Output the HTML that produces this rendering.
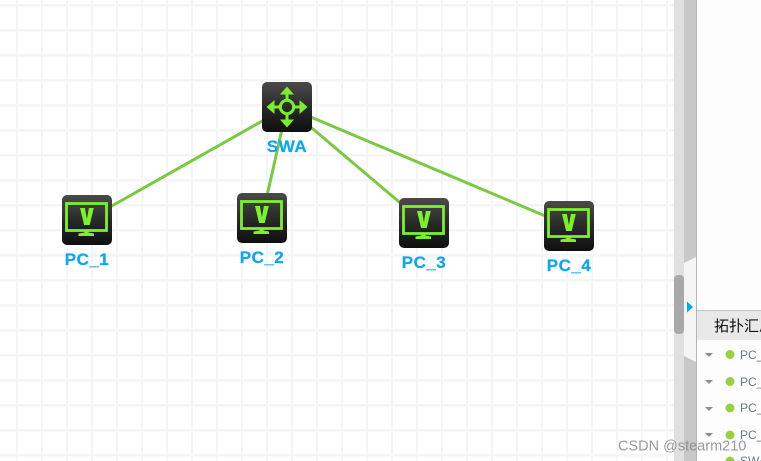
<!DOCTYPE html>
<html>
<head>
<meta charset="utf-8">
<style>
html,body{margin:0;padding:0;background:#fff;}
body{width:761px;height:461px;overflow:hidden;}
svg{display:block;}
text{font-family:"Liberation Sans","Noto Sans CJK SC",sans-serif;}
.lbl{font-size:17px;font-weight:bold;fill:#0ea5f5;text-anchor:middle;letter-spacing:0.5px;stroke:#0ea5f5;stroke-width:0.25px;}
.row{font-size:12px;fill:#6b7888;}
</style>
</head>
<body>
<svg width="761" height="461" viewBox="0 0 761 461" xmlns="http://www.w3.org/2000/svg">
<defs>
<pattern id="grid" x="0" y="0" width="25" height="25" patternUnits="userSpaceOnUse">
<rect x="16" y="0" width="2" height="25" fill="#f5f5f5"/>
<rect x="0" y="4" width="25" height="2.600" fill="#f5f5f5"/>
</pattern>
<linearGradient id="tile" x1="0" y1="0" x2="0" y2="1">
<stop offset="0" stop-color="#4a4a4a"/>
<stop offset="0.5" stop-color="#2a2a2a"/>
<stop offset="1" stop-color="#0f0f0f"/>
</linearGradient>
<g id="pc">
<rect x="0" y="0" width="50" height="50" rx="5" fill="url(#tile)"/>
<rect x="4.500" y="8.500" width="40" height="27" fill="none" stroke="#7cf02a" stroke-width="2.800"/>
<path d="M18 13h4.900l2 11 2-11H31.800l-4.100 17h-5.600z" fill="#7cf02a"/>
<path d="M22.500 36h4v1.500l5.500 1V41H16.500V38.500l6-1z" fill="#7cf02a"/>
</g>
</defs>
<rect width="674" height="461" fill="#fff"/>
<rect width="674" height="461" fill="url(#grid)"/>

<g stroke="#7ac943" stroke-width="3" fill="none">
<line x1="287" y1="107" x2="87" y2="220"/>
<line x1="287" y1="107" x2="262" y2="218"/>
<line x1="287" y1="107" x2="424" y2="223"/>
<line x1="287" y1="107" x2="569" y2="226"/>
</g>

<g transform="translate(262,82)">
<rect x="0" y="0" width="50" height="50" rx="5" fill="url(#tile)"/>
<g fill="none" stroke="#7aee2a" stroke-width="3">
<circle cx="25" cy="25" r="6.700"/>
<path d="M25 18V8M25 32V42M18 25H8M32 25H42"/>
</g>
<g fill="#7aee2a">
<path d="M25 4.500l7 8h-14z"/>
<path d="M25 45.500l7-8h-14z"/>
<path d="M4.500 25l8-7v14z"/>
<path d="M45.500 25l-8-7v14z"/>
</g>
</g>
<text class="lbl" x="287" y="152">SWA</text>

<use href="#pc" x="62" y="195"/>
<text class="lbl" x="87" y="265">PC_1</text>
<use href="#pc" x="237" y="193"/>
<text class="lbl" x="262" y="263">PC_2</text>
<use href="#pc" x="399" y="198"/>
<text class="lbl" x="424" y="268">PC_3</text>
<use href="#pc" x="544" y="201"/>
<text class="lbl" x="569" y="271">PC_4</text>

<rect x="674" y="0" width="10" height="461" fill="#e0e0e0"/>
<rect x="684" y="0" width="12" height="461" fill="#c8c8c8"/>
<rect x="696" y="0" width="1" height="461" fill="#b4b4b4"/>
<rect x="697" y="0" width="64" height="461" fill="#fdfdfd"/>
<rect x="674" y="275" width="10" height="59" rx="4" fill="#a9a9a9"/>
<path d="M684 263L696 257V362L684 356z" fill="#f5f5f5"/>
<path d="M687 301.500L693 307L687 312.500z" fill="#00a8f5"/>

<rect x="697" y="310" width="64" height="30" fill="#e9e9e9"/>
<rect x="697" y="310" width="64" height="1" fill="#c4c4c4"/>
<text x="714" y="331" font-size="15" fill="#111">拓扑汇总</text>

<g fill="#8a8f96">
<path d="M705 353h8l-4 4z"/>
<path d="M705 380h8l-4 4z"/>
<path d="M705 407h8l-4 4z"/>
<path d="M705 433h8l-4 4z"/>
</g>
<g fill="#98d040">
<circle cx="730" cy="354.500" r="4.500"/>
<circle cx="730" cy="381.500" r="4.500"/>
<circle cx="730" cy="408" r="4.500"/>
<circle cx="730" cy="435" r="4.500"/>
<circle cx="730" cy="461" r="4.500"/>
</g>
<text class="row" x="740" y="359">PC_1</text>
<text class="row" x="740" y="386">PC_2</text>
<text class="row" x="740" y="412">PC_3</text>
<text class="row" x="740" y="439">PC_4</text>
<text class="row" x="740" y="465">SWA</text>

<text x="618" y="450.500" font-size="14.500" fill="#888" fill-opacity="0.85">CSDN @stearm210</text>
</svg>
</body>
</html>
